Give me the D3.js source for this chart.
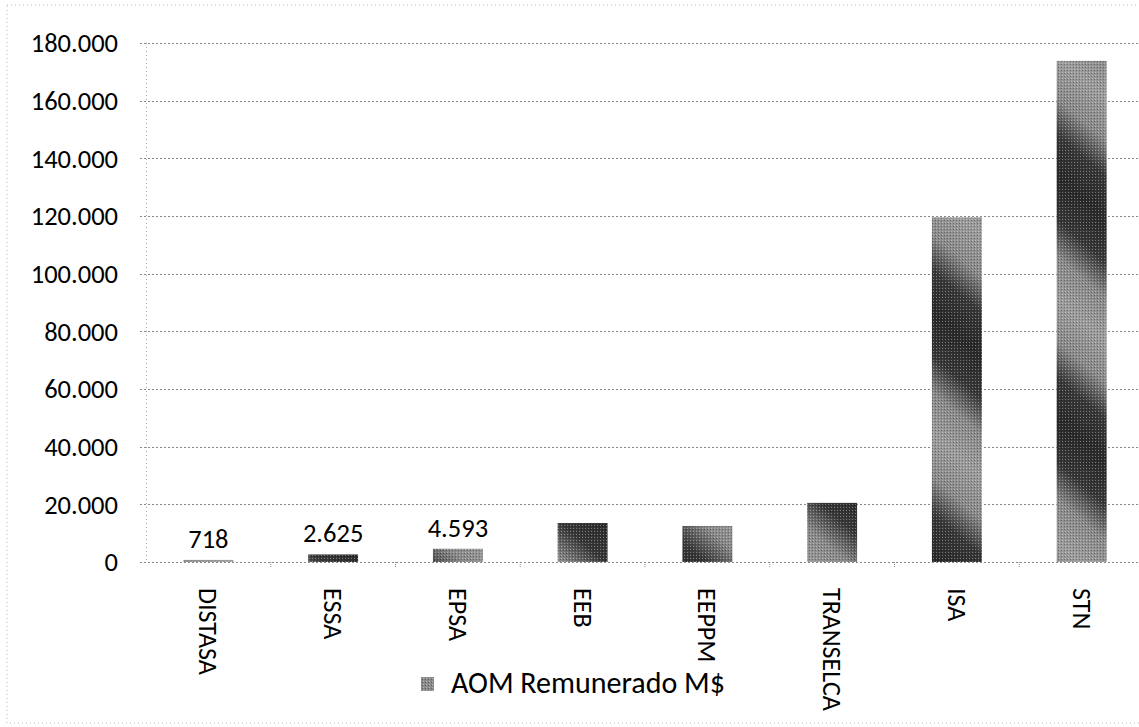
<!DOCTYPE html>
<html>
<head>
<meta charset="utf-8">
<script src="https://cdn.jsdelivr.net/npm/d3@7/dist/d3.min.js"></script>
<style>
  html, body { margin: 0; padding: 0; background: #fff; }
  svg { display: block; font-family: Carlito, Lato, "Open Sans", sans-serif; }
</style>
</head>
<body>
<svg id="chart" width="1139" height="727"></svg>
<script>
const categories = ["DISTASA", "ESSA", "EPSA", "EEB", "EEPPM", "TRANSELCA", "ISA", "STN"];
const values = [718, 2625, 4593, 13500, 12500, 20500, 119500, 173800];
const labelled = ["DISTASA", "ESSA", "EPSA"];
const yTicks = [0, 20000, 40000, 60000, 80000, 100000, 120000, 140000, 160000, 180000];
const seriesName = "AOM Remunerado M$";

const svg = d3.select("#chart");
const margin = { left: 146, right: -5, top: 43, bottom: 165 };
const W = 1139, H = 727;

const x = d3.scaleBand().domain(categories)
  .range([margin.left, W - margin.right])
  .paddingInner(0.6).paddingOuter(0.3);
const y = d3.scaleLinear().domain([0, 180000]).range([H - margin.bottom, margin.top]);

const fmt = v => d3.format(",")(v).replace(/,/g, ".");

// texture for bars
const defs = svg.append("defs");
const grad = defs.append("linearGradient")
  .attr("id", "tex").attr("gradientUnits", "userSpaceOnUse")
  .attr("x1", 0).attr("y1", 0).attr("x2", 60).attr("y2", -70)
  .attr("spreadMethod", "reflect");
grad.append("stop").attr("offset", "0").attr("stop-color", "#2a2a2a");
grad.append("stop").attr("offset", "0.35").attr("stop-color", "#383838");
grad.append("stop").attr("offset", "0.65").attr("stop-color", "#8a8a8a");
grad.append("stop").attr("offset", "1").attr("stop-color", "#9c9c9c");
const pat = defs.append("pattern").attr("id", "dots")
  .attr("patternUnits", "userSpaceOnUse").attr("width", 3).attr("height", 3);
pat.append("rect").attr("width", 1).attr("height", 1).attr("fill", "#fff").attr("opacity", 0.35);
pat.append("rect").attr("x", 2).attr("y", 1).attr("width", 1).attr("height", 1).attr("fill", "#000").attr("opacity", 0.3);

// outer dotted border
svg.append("rect").attr("x", 7).attr("y", 5).attr("width", 1145).attr("height", 718)
  .attr("fill", "none").attr("stroke", "#bbb").attr("stroke-dasharray", "1,3");

// gridlines
svg.append("g").selectAll("line").data(yTicks).join("line")
  .attr("x1", margin.left - 6).attr("x2", W)
  .attr("y1", d => Math.round(y(d)) + 0.5).attr("y2", d => Math.round(y(d)) + 0.5)
  .attr("stroke", "#888").attr("stroke-dasharray", "2,2").attr("stroke-width", 1);

// left axis (dotted)
svg.append("line").attr("x1", margin.left + 0.5).attr("x2", margin.left + 0.5)
  .attr("y1", y(180000)).attr("y2", y(0))
  .attr("stroke", "#aaa").attr("stroke-dasharray", "1,3");

// y tick labels
svg.append("g").selectAll("text").data(yTicks).join("text")
  .attr("x", 118).attr("y", d => y(d)).attr("dy", "0.35em")
  .attr("text-anchor", "end").attr("font-size", 26.5).attr("fill", "#000")
  .text(d => fmt(d));

// x tick marks at band boundaries
const bounds = categories.slice(1).map(c => x(c) - x.step() * x.paddingInner() / 2);
svg.append("g").selectAll("line").data(bounds).join("line")
  .attr("x1", d => d).attr("x2", d => d)
  .attr("y1", y(0)).attr("y2", y(0) + 6)
  .attr("stroke", "#888").attr("stroke-dasharray", "1,1");

// bars
const data = categories.map((c, i) => ({ c, v: values[i] }));
const bars = svg.append("g");
bars.selectAll("rect.b").data(data).join("rect").attr("class", "b")
  .attr("x", d => x(d.c)).attr("width", x.bandwidth())
  .attr("y", d => y(d.v)).attr("height", d => y(0) - y(d.v))
  .attr("fill", "url(#tex)");
bars.selectAll("rect.d").data(data).join("rect").attr("class", "d")
  .attr("x", d => x(d.c)).attr("width", x.bandwidth())
  .attr("y", d => y(d.v)).attr("height", d => y(0) - y(d.v))
  .attr("fill", "url(#dots)");

// data labels
svg.append("g").selectAll("text").data(data.filter(d => labelled.includes(d.c))).join("text")
  .attr("x", d => x(d.c) + x.bandwidth() / 2).attr("y", d => y(d.v) - 12)
  .attr("text-anchor", "middle").attr("font-size", 26.5).attr("fill", "#000")
  .text(d => fmt(d.v));

// category labels (rotated)
svg.append("g").selectAll("text").data(categories).join("text")
  .attr("transform", d => `translate(${x(d) + x.bandwidth() / 2},588) rotate(90)`)
  .attr("dy", "0.35em").attr("font-size", 26).attr("fill", "#000")
  .text(d => d);

// legend
const lg = svg.append("g");
lg.append("rect").attr("x", 421).attr("y", 677).attr("width", 13).attr("height", 14)
  .attr("fill", "#8a8a8a");
lg.append("rect").attr("x", 421).attr("y", 677).attr("width", 13).attr("height", 14)
  .attr("fill", "url(#dots)");
lg.append("text").attr("x", 451).attr("y", 693).attr("font-size", 30).attr("fill", "#000")
  .text(seriesName);
</script>
</body>
</html>
